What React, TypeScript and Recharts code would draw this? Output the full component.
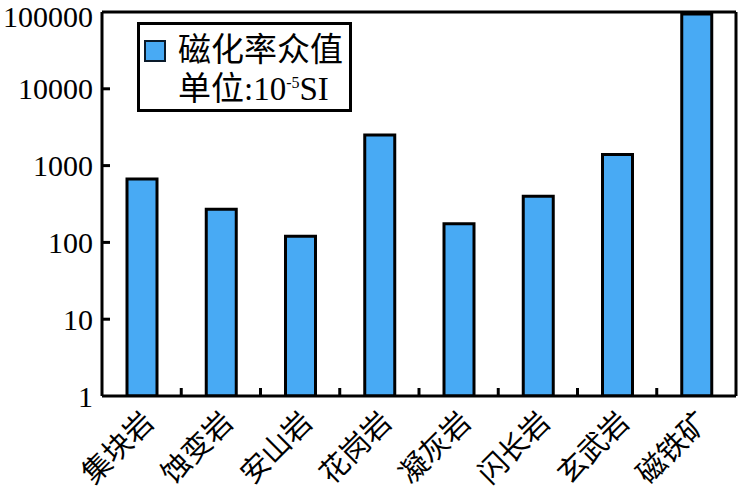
import React from 'react'
import { BarChart, Bar, XAxis, YAxis, ReferenceLine, Legend } from 'recharts'

// rock types along the x axis
const rocks = ['集块岩', '蚀变岩', '安山岩', '花岗岩', '凝灰岩', '闪长岩', '玄武岩', '磁铁矿']
// modal magnetic susceptibility (10^-5 SI)
const modeValues = [670, 270, 120, 2500, 175, 400, 1400, 94000]
const yTicks = [1, 10, 100, 1000, 10000, 100000]
const seriesName = '磁化率众值'

const W = 739
const H = 493
const LEFT = 102
const RIGHT = 3
const BAND = (W - LEFT - RIGHT) / rocks.length
const FONT = "'Liberation Serif', 'Times New Roman', 'Noto Sans CJK SC', serif"
const BLUE = '#48AAF4'

const data = rocks.map((name, i) => ({ name, value: modeValues[i] }))

const XTick = ({ x, y, payload, index }: any) => (
  <g>
    {index < rocks.length - 1 && (
      <line x1={x + BAND / 2} x2={x + BAND / 2} y1={y} y2={y - 8} stroke="#000" strokeWidth={3} />
    )}
    <text
      transform={`translate(${x + 14},${y + 28}) rotate(-45)`}
      textAnchor="end"
      fontSize={29}
      fill="#000"
      style={{ fontFamily: FONT }}
    >
      {payload.value}
    </text>
  </g>
)

const YTick = ({ x, y, payload }: any) => {
  // the top label sits at the very edge, nudge it down so it stays on the page
  const shift = payload.value === 100000 ? 4 : 0
  return (
    <g>
      {payload.value > 1 && payload.value < 100000 && (
        <line x1={x} x2={x + 8} y1={y} y2={y} stroke="#000" strokeWidth={3} />
      )}
      <text
        x={x - 9}
        y={y + shift}
        dy="0.35em"
        textAnchor="end"
        fontSize={30}
        fill="#000"
        style={{ fontFamily: FONT }}
      >
        {payload.value}
      </text>
    </g>
  )
}

const LegendBox = () => (
  <div
    style={{
      position: 'relative',
      width: 215,
      height: 90,
      boxSizing: 'border-box',
      border: '3px solid #000',
      background: '#fff',
      fontFamily: FONT,
      color: '#000',
      fontSize: 33,
      lineHeight: 1,
    }}
  >
    <div
      style={{
        position: 'absolute',
        left: 4,
        top: 15,
        width: 22,
        height: 22,
        boxSizing: 'border-box',
        border: '2px solid #0a1a2a',
        background: BLUE,
      }}
    />
    <div style={{ position: 'absolute', left: 38, top: 9, whiteSpace: 'nowrap' }}>{seriesName}</div>
    <div style={{ position: 'absolute', left: 38, top: 48, whiteSpace: 'nowrap' }}>
      单位:10<sup style={{ fontSize: 16, verticalAlign: 'top', position: 'relative', top: 2 }}>-5</sup>SI
    </div>
  </div>
)

export default function App() {
  return (
    <div style={{ width: W, height: H, background: '#fff' }}>
      <style>{'body{margin:0}'}</style>
      <BarChart width={W} height={H} data={data} margin={{ top: 12, right: 0, bottom: 67, left: 0 }}>
        <XAxis
          dataKey="name"
          height={30}
          interval={0}
          tickLine={false}
          tickSize={0}
          tickMargin={0}
          tick={<XTick />}
          axisLine={{ stroke: '#000', strokeWidth: 3 }}
        />
        <YAxis
          scale="log"
          domain={[1, 100000]}
          ticks={yTicks}
          allowDataOverflow
          width={LEFT}
          tickLine={false}
          tickSize={0}
          tickMargin={0}
          tick={<YTick />}
          axisLine={{ stroke: '#000', strokeWidth: 3 }}
        />
        <YAxis
          yAxisId="frame"
          orientation="right"
          width={RIGHT}
          tick={false}
          tickLine={false}
          axisLine={{ stroke: '#000', strokeWidth: 3 }}
        />
        <ReferenceLine y={100000} stroke="#000" strokeWidth={3} />
        <Legend
          layout="vertical"
          align="center"
          verticalAlign="middle"
          wrapperStyle={{ left: 137, top: 22, width: 215, height: 90 }}
          content={<LegendBox />}
        />
        <Bar
          dataKey="value"
          name={seriesName}
          fill={BLUE}
          stroke="#000"
          strokeWidth={3}
          barSize={30}
          isAnimationActive={false}
        />
      </BarChart>
    </div>
  )
}
